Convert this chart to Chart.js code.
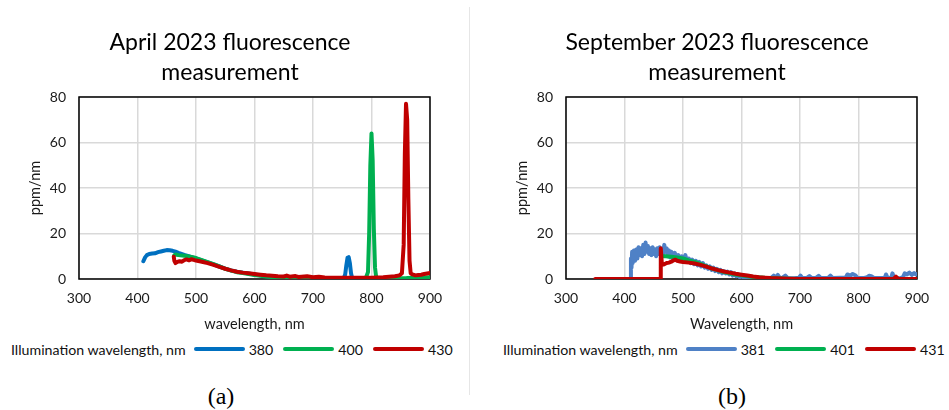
<!DOCTYPE html>
<html>
<head>
<meta charset="utf-8">
<script src="https://cdn.jsdelivr.net/npm/chart.js@4"></script>
<style>
  body { margin:0; width:949px; height:410px; background:#fff; overflow:hidden; position:relative; font-family:Lato, sans-serif; }
  .panel { position:absolute; top:0; width:470px; height:340px; }
  .divider { position:absolute; left:469px; top:7px; width:1px; height:388px; background:#e6e6e6; }
  .legend { position:absolute; top:340px; height:18px; display:flex; align-items:center; font-size:14.2px; color:#111; white-space:nowrap; }
  .legend .sw { display:inline-block; width:51px; height:4px; border-radius:2px; margin-left:8px; margin-right:4px; }
  .legend .lab { margin-right:2px; }
  .cap { position:absolute; top:383px; font-family:"Liberation Serif", serif; font-size:24px; color:#000; transform:translateX(-50%); }
</style>
</head>
<body>
<div class="panel" style="left:0"><canvas id="grafA" width="470" height="340"></canvas></div>
<div class="panel" style="left:487px"><canvas id="grafB" width="470" height="340"></canvas></div>
<div class="divider"></div>
<div class="legend" id="legA" style="left:11px"></div>
<div class="legend" id="legB" style="left:503px"></div>
<div class="cap" style="left:221px">(a)</div>
<div class="cap" style="left:732px">(b)</div>

<script>
// ===== April 2023 =====
const apr380X = [410,413,416,420,425,430,435,440,445,450,455,460,465,470,480,490,500,510,520,530,540,550,560,570,580,590,600,610,620,630,640,650,660,670,680,700,720,740,752,755,757,759,761,763,765,767,770,800,850,900];
const apr380Y = [7.8,9.5,10.5,11,11.2,11.3,11.8,12.1,12.4,12.7,12.6,12.4,12,11.5,10.6,9.8,9,8.2,7.3,6.4,5.5,4.6,3.8,3.2,2.8,2.4,2,1.6,1.2,0.9,0.7,0.5,0.3,0.2,0.1,0,0,0,0,2,6,9.3,9.6,7,2.5,0.3,0,0,0,0];

const apr400X = [463,465,470,480,490,500,510,520,530,540,550,560,570,580,590,600,620,640,660,670,680,700,750,780,790,794,796,798,800,802,804,806,808,812,830,860,880,900];
const apr400Y = [10.5,10.8,10.5,10.2,9.8,9.2,8.3,7.4,6.5,5.5,4.5,3.7,3,2.6,2.2,1.8,1.1,0.6,0.3,0.1,0,0,0,0,0.2,3,20,50,64,52,22,5,0.8,0.3,0.3,0.4,0.6,0.8];

const apr430X = [462,463,465,468,472,476,480,484,488,492,496,500,510,520,530,540,550,560,570,580,590,600,610,620,630,640,650,655,660,670,675,680,690,700,710,720,740,760,780,800,820,840,848,852,855,857,859,861,863,865,867,870,875,880,885,890,895,900];
const apr430Y = [9.8,8,7,7.5,7.8,7.6,8.3,8.6,8.2,8.7,8.4,8.1,7.6,7,6.2,5.3,4.5,3.8,3.2,2.8,2.5,2.2,1.9,1.6,1.4,1.2,1.1,1.5,1,1.3,0.9,1,1.2,0.8,1,0.7,0.6,0.5,0.5,0.6,0.8,1.2,1.6,2.5,15,55,77,70,35,8,2.5,2,1.6,1.8,1.9,2.2,2.4,2.6];

// ===== September 2023 =====
const sep381X = [409,410,411,412,413,414,416,418,420,422,424,426,428,430,432,434,436,438,440,442,444,446,448,450,452,454,456,458,460,462,464,466,468,470,472,474,476,478,480,483,486,489,492,495,498,501,504,507,510,513,516,519,522,525,528,531,534,537,540,543,546,549,552,555,558,561,564,567,570,573,576,579,582,585,588,591,594,597,600,604,608,612,616,620,630,640,650,655,658,662,666,670,675,679,690,698,701,704,712,716,720,728,732,736,748,752,756,768,778,781,786,790,795,798,808,815,818,822,826,835,845,847,850,856,858,861,870,876,879,883,887,891,895,898,900];
const sep381Y = [0,0,9,5,12,7,12.5,8,13,9,14,10.5,13.5,10,15,11,16,12,14.5,11,13.5,10.5,14,11,13,10,13.5,11,14,11.5,13,11,15,12,13.5,10,12.5,9.5,12,9,11.5,8.5,10.5,8,10,8.5,10.5,7.5,9,7,8.5,6.5,8,6,7.5,5.5,7,5,6,4.5,5.5,4,5,3.5,4.5,3,4,2.5,3.5,2.5,3.2,2,3,1.5,2.5,1.2,2,0.8,1.5,0.5,1,0.2,0.5,0,0,0,0.3,1.5,0.5,1.8,0.4,0.6,1.5,0.4,0.3,0.5,1.5,0.4,0.5,1.3,0.4,0.6,1.4,0.4,0.5,1.5,0.4,0.5,0.6,2,1.5,2.2,1.5,0.5,0.4,0.8,1.4,1.2,0.6,0.4,0.6,2,0.4,0.5,2.5,0.4,0.3,0.8,2.5,2,2.8,1.8,2.6,2,2.2];

const sep401X = [465,470,480,490,500,510,520,530,540,550,560,570,580,590,600,620,640,660,680,700,750,800,850,900];
const sep401Y = [10,10,9.8,9.5,9,8.2,7.5,6.6,5.6,4.6,3.8,3.1,2.5,2,1.6,0.9,0.5,0.3,0.1,0,0,0,0,0];

const sep431X = [350,461,462,464,468,472,476,480,484,487,490,495,500,510,520,530,540,550,560,570,580,590,600,610,620,630,640,650,660,680,700,750,800,860,864,868,900];
const sep431Y = [0,0,13.5,6.2,6.5,7,7.2,7.6,8.2,8.5,8,7.7,7.5,7.2,6.8,6.2,5.4,4.6,3.9,3.3,2.8,2.3,1.9,1.5,1.1,0.8,0.6,0.4,0.3,0.1,0,0,0,0,1,0,0];

const xTicks = [300,400,500,600,700,800,900];
const yTicks = [0,20,40,60,80];

const colores = { azul:'#0070C0', azulClaro:'#4F81C6', verde:'#00B050', rojo:'#C00000' };

function pts(xs, ys) { return xs.map((x, i) => ({ x: x, y: ys[i] })); }

// marco negro alrededor del area del grafico
const marco = {
  id: 'marco',
  beforeDatasetsDraw(chart) {
    const a = chart.chartArea, ctx = chart.ctx;
    ctx.save();
    ctx.strokeStyle = '#000';
    ctx.lineWidth = 1.5;
    ctx.strokeRect(a.left, a.top, a.right - a.left, a.bottom - a.top);
    ctx.restore();
  }
};

function serie(label, xs, ys, color, orden) {
  return {
    label: label, data: pts(xs, ys), borderColor: color, backgroundColor: color,
    borderWidth: 4, pointRadius: 0, tension: 0, order: orden,
    borderJoinStyle: 'round', borderCapStyle: 'round'
  };
}

function crearGrafico(id, titulo, xTitulo, datasets) {
  return new Chart(document.getElementById(id), {
    type: 'line',
    data: { datasets: datasets },
    options: {
      responsive: false,
      animation: false,
      layout: { padding: { left: 30, right: 40, top: 0, bottom: 0 } },
      plugins: {
        legend: { display: false },
        tooltip: { enabled: false },
        title: {
          display: true, text: titulo, color: '#000',
          font: { family: 'Lato', size: 23, weight: 'normal', lineHeight: 1.3 },
          padding: { top: 28, bottom: 9.2 }
        }
      },
      scales: {
        x: {
          type: 'linear', min: 300, max: 900,
          afterBuildTicks: s => { s.ticks = xTicks.map(v => ({ value: v })); },
          afterFit: s => { s.height = 61; },
          grid: { color: '#d9d9d9', lineWidth: 1.5, drawTicks: false },
          border: { display: false },
          ticks: { color: '#1a1a1a', padding: 11, font: { family: 'Lato', size: 14 } },
          title: { display: true, text: xTitulo, color: '#1a1a1a', font: { family: 'Lato', size: 14.5 }, padding: { top: 0, bottom: 7.3 } }
        },
        y: {
          min: 0, max: 80,
          afterBuildTicks: s => { s.ticks = yTicks.map(v => ({ value: v })); },
          afterFit: s => { s.width = 49; },
          grid: { color: '#d9d9d9', lineWidth: 1.5, drawTicks: false },
          border: { display: false },
          ticks: { color: '#1a1a1a', padding: 13, font: { family: 'Lato', size: 14 } },
          title: { display: true, text: 'ppm/nm', color: '#1a1a1a', font: { family: 'Lato', size: 14.5 }, padding: { top: -3.7, bottom: 0 } }
        }
      }
    },
    plugins: [marco]
  });
}

crearGrafico('grafA', ['April 2023 fluorescence', 'measurement'], 'wavelength, nm', [
  serie('380', apr380X, apr380Y, colores.azul, 3),
  serie('400', apr400X, apr400Y, colores.verde, 2),
  serie('430', apr430X, apr430Y, colores.rojo, 1)
]);

crearGrafico('grafB', ['September 2023 fluorescence', 'measurement'], 'Wavelength, nm', [
  serie('381', sep381X, sep381Y, colores.azulClaro, 3),
  serie('401', sep401X, sep401Y, colores.verde, 2),
  serie('431', sep431X, sep431Y, colores.rojo, 1)
]);

// Leyendas en HTML
function leyenda(id, items) {
  const div = document.getElementById(id);
  let html = '<span>Illumination wavelength, nm</span>';
  items.forEach(it => {
    html += `<span class="sw" style="background:${it.color}"></span><span class="lab">${it.label}</span>`;
  });
  div.innerHTML = html;
}
leyenda('legA', [{label:'380', color:colores.azul}, {label:'400', color:colores.verde}, {label:'430', color:colores.rojo}]);
leyenda('legB', [{label:'381', color:colores.azulClaro}, {label:'401', color:colores.verde}, {label:'431', color:colores.rojo}]);
</script>
</body>
</html>
